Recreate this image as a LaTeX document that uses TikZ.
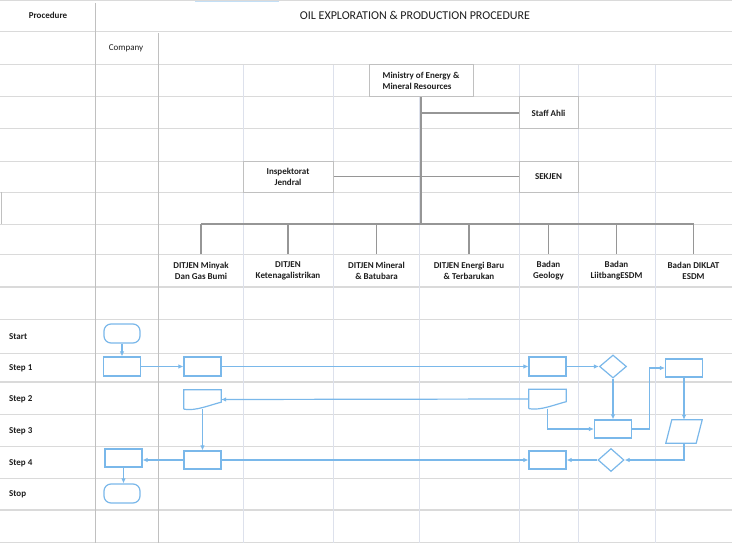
\documentclass[tikz,border=0pt]{standalone}
\usepackage{fontspec}
\setmainfont{Carlito}
\usetikzlibrary{arrows.meta,shapes.geometric}
\definecolor{flowblue}{RGB}{122,184,234}
\definecolor{gridgrey}{RGB}{218,218,218}
\definecolor{gridblue}{RGB}{221,225,236}
\definecolor{lanegrey}{RGB}{192,192,192}
\definecolor{orggrey}{RGB}{150,150,150}
\definecolor{textgrey}{RGB}{30,30,30}

\begin{document}
\begin{tikzpicture}[x=1pt,y=-1pt,
    gridline/.style={gridgrey, line width=1pt},
    colline/.style={gridblue, line width=1pt},
    orgbox/.style={draw=lanegrey, line width=1pt, fill=white, inner sep=0pt, align=center, font=\fontsize{9}{11}\selectfont\bfseries, text=textgrey},
    orgtext/.style={inner sep=0pt, align=center, minimum height=33pt, font=\fontsize{9}{11}\selectfont\bfseries, text=textgrey},
    orgline/.style={orggrey, line width=1.2pt},
    rowlabel/.style={anchor=west, inner sep=0pt, font=\fontsize{9}{11}\selectfont\bfseries, text=textgrey},
    flowbox/.style={draw=flowblue, line width=1.2pt, fill=white, minimum width=37pt, minimum height=19pt, inner sep=0pt},
    flowterm/.style={flowbox, rounded corners=7pt, minimum width=36pt},
    flowdec/.style={diamond, draw=flowblue, line width=1.2pt, fill=white, minimum width=27pt, minimum height=23pt, inner sep=0pt},
    flowshape/.style={minimum width=37pt, minimum height=19pt, inner sep=0pt},
    flowline/.style={flowblue, line width=1.2pt, -{Latex[length=5pt,width=4.5pt]}}]

    \useasboundingbox (0,0) rectangle (732,543);
    \fill[white] (0,0) rectangle (732,543);
    \fill[flowblue!45] (195,0) rectangle (279,1.6);

    \foreach \y in {1,32,65,97,129,161,192,224,254,319,353,414,446,478,542}
        \draw[gridline] (0,\y) -- (732,\y);
    \foreach \y in {287,382,510}
        \draw[gridline, line width=2pt] (0,\y) -- (732,\y);
    \foreach \x in {243,333,419,519,578,655}
        \draw[colline] (\x,65) -- (\x,543);
    \draw[lanegrey, line width=1pt] (95,3) -- (95,543);
    \draw[lanegrey, line width=1pt] (158,33) -- (158,543);
    \draw[lanegrey, line width=1pt] (1,192) -- (1,224);

    \node[text=textgrey, font=\fontsize{9}{11}\selectfont\bfseries] (proc) at (48,15) {Procedure};
    \node[text=textgrey, font=\fontsize{12}{14}\selectfont] (title) at (415,15) {OIL EXPLORATION \& PRODUCTION PROCEDURE};
    \node[text=textgrey, font=\fontsize{9}{11}\selectfont] (comp) at (126,48) {Company};

    \node[orgbox, minimum width=104pt, minimum height=32pt, align=left] (min) at (421,81) {Ministry of Energy \&\\Mineral Resources};
    \node[orgbox, minimum width=59pt, minimum height=32pt] (staff) at (548.5,113) {Staff Ahli};
    \node[orgbox, minimum width=90pt, minimum height=31pt] (insp) at (288,176.5) {Inspektorat\\Jendral};
    \node[orgbox, minimum width=59pt, minimum height=31pt] (sek) at (548.5,176.5) {SEKJEN};
    \coordinate (hub) at (421,224);

    \node[orgtext, minimum width=85pt] (dit1) at (201,270.5) {DITJEN Minyak\\Dan Gas Bumi};
    \node[orgtext, minimum width=90pt] (dit2) at (288,270.5) {DITJEN\\Ketenagalistrikan};
    \node[orgtext, minimum width=86pt] (dit3) at (376.5,270.5) {DITJEN Mineral\\\& Batubara};
    \node[orgtext, minimum width=100pt] (dit4) at (469,270.5) {DITJEN Energi Baru\\\& Terbarukan};
    \node[orgtext, minimum width=59pt] (dit5) at (548.5,270.5) {Badan\\Geology};
    \node[orgtext, minimum width=77pt] (dit6) at (616.5,270.5) {Badan\\LiitbangESDM};
    \node[orgtext, minimum width=77pt] (dit7) at (693.5,270.5) {Badan DIKLAT\\ESDM};

    \draw[orgline, line width=2pt] (min.south) -- (hub);
    \draw[orgline] (staff.west) -- (staff.west -| hub);
    \draw[orgline] (insp.east) -- (sek.west);
    \draw[orgline] (dit1.north |- hub) -- (dit7.north |- hub);
    \foreach \n in {1,...,7}
        \draw[orgline] (dit\n.north |- hub) -- (dit\n.north);

    \node[rowlabel] (lstart) at (9,337) {Start};
    \node[rowlabel] (lstep1) at (9,368) {Step 1};
    \node[rowlabel] (lstep2) at (9,399) {Step 2};
    \node[rowlabel] (lstep3) at (9,431) {Step 3};
    \node[rowlabel] (lstep4) at (9,463) {Step 4};
    \node[rowlabel] (lstop) at (9,494) {Stop};

    \node[flowterm] (st) at (122,333.5) {};
    \node[flowbox] (c1) at (122,366.5) {};
    \node[flowbox] (a1) at (202.5,366.5) {};
    \node[flowbox] (g1) at (547.5,366.5) {};
    \node[flowdec] (d1) at (613,366.5) {};
    \node[flowshape] (a2) at (202.5,399.5) {};
    \node[flowshape] (g2) at (547.5,399) {};
    \node[flowbox, minimum height=18pt] (l3) at (613,429) {};
    \node[flowbox, minimum height=18pt] (k1) at (684,368) {};
    \node[flowshape, minimum width=36pt, minimum height=23pt] (k3) at (684,431.5) {};
    \node[flowdec, minimum width=26pt] (d4) at (611,460) {};
    \node[flowbox, minimum height=18pt] (g4) at (547.5,460) {};
    \node[flowbox, minimum height=18pt] (a4) at (202.5,460) {};
    \node[flowbox, minimum height=18pt] (c4) at (123.5,458) {};
    \node[flowterm] (sp) at (122,493.5) {};

    \foreach \d in {a2,g2}
        \draw[flowblue, line width=1.2pt, fill=white] (\d.south west) -- (\d.north west) -- (\d.north east) -- ([yshift=7pt]\d.south east)
            .. controls ([xshift=-12pt,yshift=4pt]\d.south east) and ([xshift=12pt,yshift=-2pt]\d.south west) .. (\d.south west);
    \draw[flowblue, line width=1.2pt, fill=white] ([xshift=6pt]k3.north west) -- (k3.north east) -- ([xshift=-6pt]k3.south east) -- (k3.south west) -- cycle;

    \draw[flowline] (st) -- (c1);
    \draw[flowline] (c1) -- (a1);
    \draw[flowline] (a1) -- (g1);
    \draw[flowline] (g1) -- (d1);
    \draw[flowline] (d1) -- (l3);
    \draw[flowline] (g2.west) -- (a2.east);
    \draw[flowline] (g2.south) |- (l3.west);
    \draw[flowline] (a2.south) -- (a4.north);
    \draw[flowline] (l3.east) -- ++(17,0) |- (k1.west);
    \draw[flowline] (k1) -- (k3);
    \draw[flowline] (k3.south) |- (d4.east);
    \draw[flowline] (d4) -- (g4);
    \draw[flowline] (a4) -- (g4);
    \draw[flowline] (a4.west) -- (a4.west -| c4.east);
    \draw[flowline] (c4.south) -- (c4.south |- sp.north);
\end{tikzpicture}
\end{document}
